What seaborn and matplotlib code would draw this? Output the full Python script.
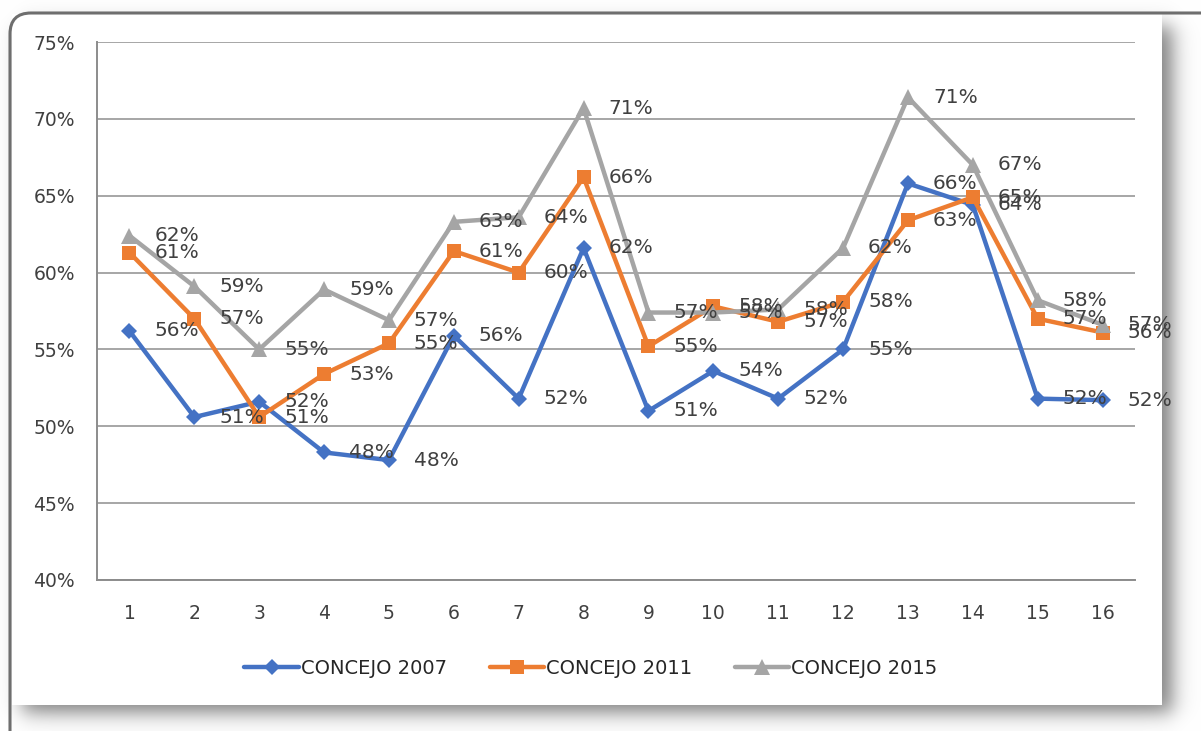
import numpy as np
import pandas as pd
import seaborn as sns
import matplotlib
matplotlib.use("Agg")
import matplotlib.pyplot as plt
from matplotlib.patches import Rectangle, PathPatch
from matplotlib.path import Path
from matplotlib.transforms import IdentityTransform

# ---------------- data ----------------
distritos = list(range(1, 17))
concejo_2007 = [56.2, 50.6, 51.6, 48.3, 47.8, 55.9, 51.8, 61.6, 51.0, 53.6, 51.8, 55.0, 65.8, 64.4, 51.8, 51.7]
concejo_2011 = [61.3, 57.0, 50.6, 53.4, 55.4, 61.4, 60.0, 66.2, 55.2, 57.8, 56.8, 58.1, 63.4, 64.9, 57.0, 56.1]
concejo_2015 = [62.4, 59.1, 55.0, 58.9, 56.9, 63.3, 63.6, 70.7, 57.4, 57.4, 57.6, 61.6, 71.4, 67.0, 58.2, 56.6]
series_names = ["CONCEJO 2007", "CONCEJO 2011", "CONCEJO 2015"]
y_ticks = [40, 45, 50, 55, 60, 65, 70, 75]

df = pd.DataFrame({
    "Distrito": distritos * 3,
    "Participacion": concejo_2007 + concejo_2011 + concejo_2015,
    "Serie": sum([[n] * len(distritos) for n in series_names], []),
})

palette = {"CONCEJO 2007": "#4472C4", "CONCEJO 2011": "#ED7D31", "CONCEJO 2015": "#A5A5A5"}
markers = {"CONCEJO 2007": "D", "CONCEJO 2011": "s", "CONCEJO 2015": "^"}
msize = {"D": 8.5, "s": 10, "^": 11}

sns.set_theme(style="white")
plt.rcParams["font.family"] = ["DejaVu Sans"]

W, H = 1201, 731
fig = plt.figure(figsize=(W / 100, H / 100), dpi=100)
fig.patch.set_facecolor("white")

# ---------------- frame decoration (shadow + rounded border) ----------------
def soft(t, a, b, s):
    return (1 / (1 + np.exp(-(t - a) / s))) * (1 / (1 + np.exp((t - b) / s)))

xs = np.arange(W)
ys = np.arange(H)
sx = soft(xs, 22, 1172, 6.0)
sy = soft(ys, 26, 712, 6.0)
shade = 1 - 0.5 * np.outer(sy, sx)
img = np.dstack([shade, shade, shade])
fig.figimage(img, xo=0, yo=0, origin="upper", zorder=-5)

def px(x, y):
    return (x, H - y)

panel = Rectangle(px(12, 705), 1162 - 12, 705 - 14, transform=IdentityTransform(),
                  facecolor="white", edgecolor="none", zorder=-4)
fig.add_artist(panel)

verts = [px(10, H + 5), px(10, 34), px(10, 13), px(31, 13), px(W + 5, 13)]
codes = [Path.MOVETO, Path.LINETO, Path.CURVE3, Path.CURVE3, Path.LINETO]
border = PathPatch(Path(verts, codes), transform=IdentityTransform(), facecolor="none",
                   edgecolor="#6e6e6e", linewidth=2.2, zorder=-3)
fig.add_artist(border)

# ---------------- chart ----------------
ax = fig.add_axes([97 / W, 1 - 580 / H, (1135 - 97) / W, (580 - 42) / H])
ax.set_facecolor("none")

sns.lineplot(data=df, x="Distrito", y="Participacion", hue="Serie", style="Serie",
             markers=markers, dashes=False, palette=palette, linewidth=3.2,
             markeredgewidth=0, ax=ax)

for line in ax.lines:
    m = line.get_marker()
    if m in msize:
        line.set_markersize(msize[m])
        line.set_markeredgecolor(line.get_color())
        line.set_markeredgewidth(0)

# data labels
for name, vals in zip(series_names, [concejo_2007, concejo_2011, concejo_2015]):
    for x, v in zip(distritos, vals):
        ax.annotate(f"{v:.0f}%", (x, v), xytext=(18, 0), textcoords="offset points",
                    ha="left", va="center", fontsize=14.5, color="#404040", zorder=5)

ax.set_xlim(0.5, 16.5)
ax.set_ylim(40, 75)
ax.set_yticks(y_ticks)
ax.set_yticklabels([f"{t}%" for t in y_ticks])
ax.set_xticks(distritos)
ax.set_xticklabels([str(d) for d in distritos])
ax.set_xticks(np.arange(0.5, 17, 1.0), minor=True)
ax.tick_params(axis="x", which="major", length=0, pad=17, labelsize=13.5, labelcolor="#404040")
ax.tick_params(axis="x", which="minor", length=6, width=1.3, color="#8c8c8c", direction="out")
ax.tick_params(axis="y", which="major", length=6, width=1.3, color="#8c8c8c", direction="out",
               pad=10, labelsize=13.5, labelcolor="#404040")
ax.set_xlabel("")
ax.set_ylabel("")

ax.yaxis.grid(True, color="#a6a6a6", linewidth=1.4)
ax.xaxis.grid(False)
ax.set_axisbelow(True)
for s in ["top", "right"]:
    ax.spines[s].set_visible(False)
for s in ["left", "bottom"]:
    ax.spines[s].set_visible(True)
    ax.spines[s].set_color("#8c8c8c")
    ax.spines[s].set_linewidth(1.4)

handles, labels = ax.get_legend_handles_labels()
if ax.get_legend() is not None:
    ax.get_legend().remove()
fig.legend(handles, labels, loc="center", bbox_to_anchor=(591 / W, 1 - 668 / H),
           bbox_transform=fig.transFigure, ncol=3, frameon=False, handlelength=2.8,
           handletextpad=0.1, columnspacing=2.2,
           prop={"family": ["DejaVu Sans"], "size": 14})

fig.savefig("out.png", dpi=100, facecolor="white")
